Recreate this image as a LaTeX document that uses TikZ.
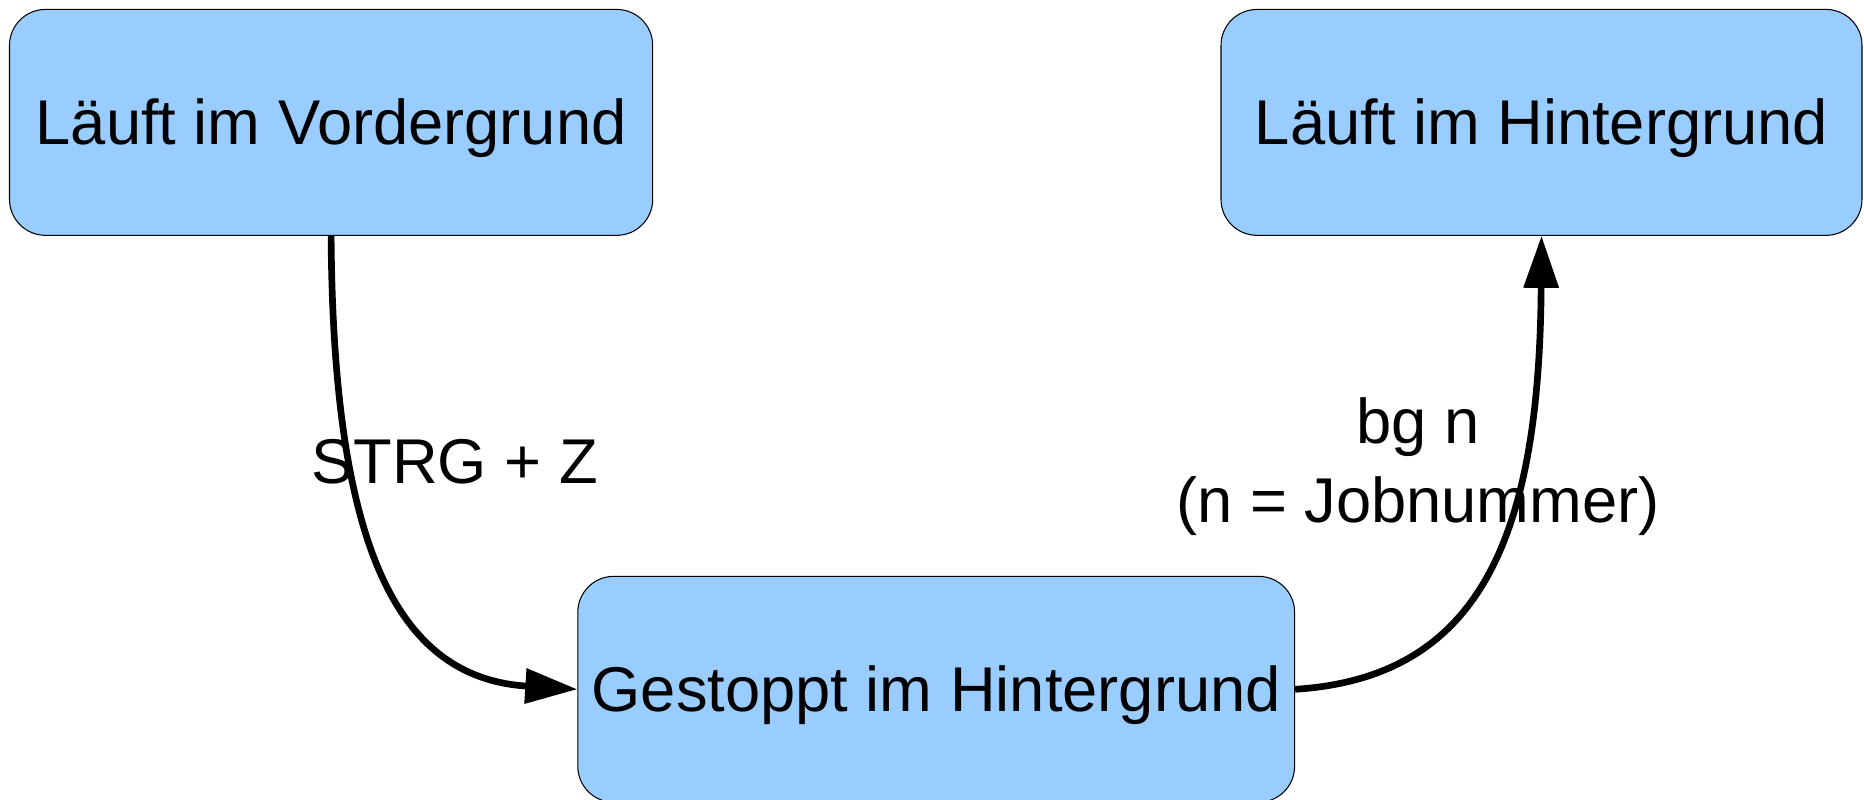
\documentclass[tikz,border=0pt]{standalone}
\usepackage{fontspec}
\setmainfont{Liberation Sans}
\usetikzlibrary{arrows.meta}
\definecolor{boxblue}{HTML}{99CCFF}

\begin{document}
\begin{tikzpicture}[
  zustand/.style={draw=black, line width=0.3pt, fill=boxblue, rounded corners=0.36cm,
    minimum height=2.259cm, inner sep=0pt, text height=16.3pt, text depth=3.8pt},
  pfeil/.style={line width=1.9pt, -{Triangle[length=5.2mm,width=3.4mm]}},
  font=\fontsize{18}{22.7}\selectfont]
\useasboundingbox (0,0) rectangle (18.64,8);
\node[zustand, minimum width=6.432cm] (vorn) at (3.311,6.776) {Läuft im Vordergrund};
\node[zustand, minimum width=6.41cm] (hinten) at (15.415,6.776) {Läuft im Hintergrund};
\node[zustand, minimum width=7.168cm] (stopp) at (9.362,1.107) {Gestoppt im Hintergrund};

\draw[pfeil] (vorn.south) .. controls +(0.02,-3) and +(-1.855,0.117) .. (stopp.west);
\node[anchor=base] (strgz) at (4.547,3.162) {STRG + Z};

\draw[pfeil] (stopp.east) .. controls +(1.855,0.117) and +(-0.02,-3) .. (hinten.south);
\node[align=center] (bgn) at (14.18,3.333) {bg n\\(n = Jobnummer)};
\end{tikzpicture}
\end{document}
